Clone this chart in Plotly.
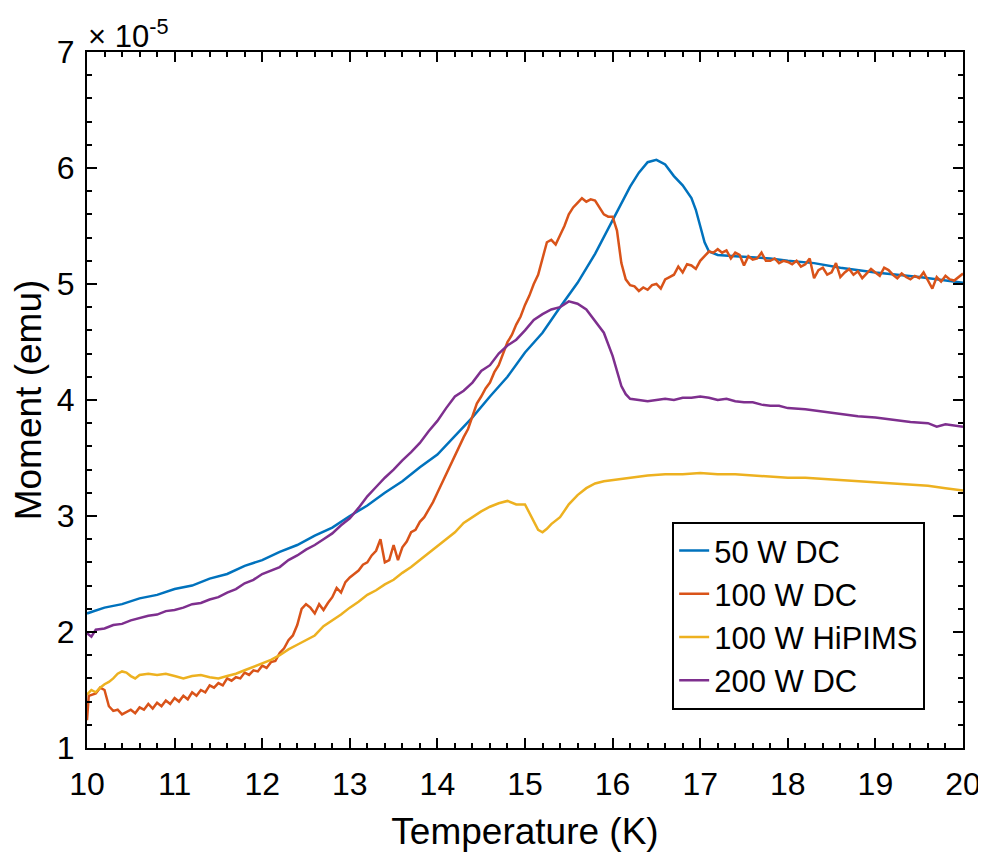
import plotly.graph_objects as go

# Moment values in units of 1e-5 emu (the axis multiplier shown on the chart)
t_50dc = [10.0, 10.2, 10.4, 10.6, 10.8, 11.0, 11.2, 11.4, 11.6, 11.8, 12.0, 12.2, 12.4, 12.6, 12.8,
          13.0, 13.2, 13.4, 13.6, 13.8, 14.0, 14.2, 14.4, 14.6, 14.8, 15.0, 15.2, 15.4, 15.6, 15.8,
          16.0, 16.1, 16.2, 16.3, 16.4, 16.5, 16.6, 16.7, 16.8, 16.9, 16.95, 17.0, 17.05, 17.1, 17.2,
          17.4, 17.6, 17.8, 18.0, 18.3, 18.6, 19.0, 19.5, 20.0]
m_50dc = [2.16, 2.21, 2.24, 2.29, 2.32, 2.37, 2.40, 2.46, 2.50, 2.57, 2.62, 2.69, 2.75, 2.83, 2.90,
          3.0, 3.09, 3.2, 3.30, 3.42, 3.53, 3.69, 3.85, 4.03, 4.20, 4.41, 4.58, 4.8, 5.01, 5.26,
          5.55, 5.7, 5.84, 5.96, 6.05, 6.07, 6.03, 5.93, 5.85, 5.74, 5.64, 5.5, 5.36, 5.28, 5.25,
          5.24, 5.23, 5.22, 5.2, 5.18, 5.14, 5.1, 5.06, 5.01]

t_100dc = [10.0, 10.02, 10.1, 10.15, 10.2, 10.25, 10.3, 10.35, 10.4, 10.45, 10.5, 10.55, 10.6, 10.65,
           10.7, 10.75, 10.8, 10.85, 10.9, 10.95, 11.0, 11.05, 11.1, 11.15, 11.2, 11.25, 11.3, 11.35,
           11.4, 11.45, 11.5, 11.55, 11.6, 11.65, 11.7, 11.75, 11.8, 11.85, 11.9, 11.95, 12.0, 12.05,
           12.1, 12.15, 12.2, 12.25, 12.3, 12.35, 12.4, 12.45, 12.5, 12.55, 12.6, 12.65, 12.7, 12.75,
           12.8, 12.85, 12.9, 12.95, 13.0, 13.05, 13.1, 13.15, 13.2, 13.25, 13.3, 13.35, 13.4, 13.45,
           13.5, 13.55, 13.6, 13.65, 13.7, 13.75, 13.8, 13.85, 13.9, 13.95, 14.0, 14.05, 14.1, 14.15,
           14.2, 14.25, 14.3, 14.35, 14.4, 14.45, 14.5, 14.55, 14.6, 14.65, 14.7, 14.75, 14.8, 14.85,
           14.9, 14.95, 15.0, 15.05, 15.1, 15.15, 15.2, 15.25, 15.3, 15.35, 15.4, 15.45, 15.5, 15.55,
           15.6, 15.65, 15.7, 15.75, 15.8, 15.85, 15.9, 15.95, 16.0, 16.05, 16.1, 16.15, 16.2, 16.25,
           16.3, 16.35, 16.4, 16.45, 16.5, 16.55, 16.6, 16.65, 16.7, 16.75, 16.8, 16.85, 16.9, 16.95,
           17.0, 17.05, 17.1, 17.15, 17.2, 17.25, 17.3, 17.35, 17.4, 17.45, 17.5, 17.55, 17.6, 17.65,
           17.7, 17.75, 17.8, 17.85, 17.9, 17.95, 18.0, 18.05, 18.1, 18.15, 18.2, 18.25, 18.3, 18.35,
           18.4, 18.45, 18.5, 18.55, 18.6, 18.65, 18.7, 18.75, 18.8, 18.85, 18.9, 18.95, 19.0, 19.05,
           19.1, 19.15, 19.2, 19.25, 19.3, 19.35, 19.4, 19.45, 19.5, 19.55, 19.6, 19.65, 19.7, 19.75,
           19.8, 19.85, 19.9, 19.95, 20.0]
m_100dc = [1.24, 1.45, 1.47, 1.52, 1.5, 1.36, 1.32, 1.33, 1.29, 1.31, 1.33, 1.3, 1.35, 1.33,
           1.38, 1.34, 1.39, 1.36, 1.41, 1.38, 1.43, 1.4, 1.45, 1.42, 1.48, 1.45, 1.5, 1.48,
           1.54, 1.52, 1.56, 1.54, 1.6, 1.58, 1.61, 1.6, 1.65, 1.63, 1.67, 1.66, 1.71, 1.69,
           1.74, 1.75, 1.82, 1.86, 1.93, 1.97, 2.06, 2.2, 2.24, 2.21, 2.16, 2.24, 2.19, 2.25,
           2.3, 2.38, 2.34, 2.43, 2.47, 2.5, 2.53, 2.58, 2.6, 2.66, 2.7, 2.8, 2.6, 2.62,
           2.75, 2.62, 2.73, 2.78, 2.86, 2.88, 2.95, 2.99, 3.05, 3.12, 3.2, 3.28, 3.36, 3.45,
           3.52, 3.6, 3.68, 3.75, 3.86, 3.97, 4.03, 4.1, 4.15, 4.24, 4.3, 4.4, 4.5, 4.56,
           4.65, 4.72, 4.82, 4.9, 5.0, 5.08, 5.22, 5.36, 5.38, 5.34, 5.42, 5.5, 5.6, 5.66,
           5.7, 5.74, 5.71, 5.73, 5.72, 5.66, 5.6, 5.58, 5.58, 5.46, 5.18, 5.04, 4.99, 4.98,
           4.94, 4.97, 4.95, 4.99, 5.0, 4.96, 5.04, 5.06, 5.08, 5.15, 5.1, 5.17, 5.16, 5.13,
           5.2, 5.24, 5.28, 5.27, 5.3, 5.27, 5.29, 5.22, 5.27, 5.25, 5.16, 5.24, 5.21, 5.22,
           5.27, 5.2, 5.2, 5.22, 5.18, 5.2, 5.19, 5.17, 5.2, 5.15, 5.17, 5.22, 5.05, 5.12,
           5.14, 5.08, 5.1, 5.18, 5.06, 5.1, 5.13, 5.08, 5.11, 5.05, 5.09, 5.13, 5.1, 5.07,
           5.14, 5.12, 5.08, 5.05, 5.09, 5.06, 5.04, 5.07, 5.05, 5.1, 5.03, 4.96, 5.06, 5.02,
           5.07, 5.04, 5.03, 5.06, 5.09]

t_hipims = [10.0, 10.05, 10.1, 10.15, 10.2, 10.25, 10.3, 10.35, 10.4, 10.45, 10.5, 10.55, 10.6, 10.7,
            10.8, 10.9, 11.0, 11.1, 11.2, 11.3, 11.4, 11.5, 11.6, 11.7, 11.8, 11.9, 12.0, 12.1, 12.2,
            12.3, 12.4, 12.5, 12.6, 12.7, 12.8, 12.9, 13.0, 13.1, 13.2, 13.3, 13.4, 13.5, 13.6, 13.7,
            13.8, 13.9, 14.0, 14.1, 14.2, 14.3, 14.4, 14.5, 14.6, 14.7, 14.8, 14.9, 15.0, 15.05, 15.1,
            15.15, 15.2, 15.25, 15.3, 15.4, 15.5, 15.6, 15.7, 15.8, 15.9, 16.0, 16.2, 16.4, 16.6, 16.8,
            17.0, 17.2, 17.4, 17.6, 17.8, 18.0, 18.2, 18.4, 18.6, 18.8, 19.0, 19.2, 19.4, 19.6, 19.8, 20.0]
m_hipims = [1.46, 1.5, 1.48, 1.52, 1.55, 1.57, 1.6, 1.64, 1.66, 1.65, 1.62, 1.6, 1.63, 1.64,
            1.63, 1.64, 1.62, 1.6, 1.62, 1.63, 1.61, 1.6, 1.62, 1.64, 1.67, 1.7, 1.73, 1.76, 1.8,
            1.85, 1.89, 1.93, 1.97, 2.05, 2.1, 2.15, 2.21, 2.26, 2.32, 2.36, 2.41, 2.45, 2.51, 2.56,
            2.62, 2.68, 2.74, 2.8, 2.86, 2.94, 2.99, 3.04, 3.08, 3.11, 3.13, 3.1, 3.1, 3.03, 2.95,
            2.88, 2.86, 2.89, 2.93, 2.99, 3.1, 3.18, 3.24, 3.28, 3.3, 3.31, 3.33, 3.35, 3.36, 3.36,
            3.37, 3.36, 3.36, 3.35, 3.34, 3.33, 3.33, 3.32, 3.31, 3.3, 3.29, 3.28, 3.27, 3.26, 3.24, 3.22]

t_200dc = [10.0, 10.05, 10.1, 10.2, 10.3, 10.4, 10.5, 10.6, 10.7, 10.8, 10.9, 11.0, 11.1, 11.2, 11.3,
           11.4, 11.5, 11.6, 11.7, 11.8, 11.9, 12.0, 12.1, 12.2, 12.3, 12.4, 12.5, 12.6, 12.7, 12.8,
           12.9, 13.0, 13.1, 13.2, 13.3, 13.4, 13.5, 13.6, 13.7, 13.8, 13.9, 14.0, 14.1, 14.2, 14.3,
           14.4, 14.5, 14.6, 14.7, 14.8, 14.9, 15.0, 15.1, 15.2, 15.3, 15.4, 15.5, 15.6, 15.7, 15.8,
           15.9, 16.0, 16.05, 16.1, 16.15, 16.2, 16.3, 16.4, 16.5, 16.6, 16.7, 16.8, 16.9, 17.0, 17.1,
           17.2, 17.3, 17.4, 17.5, 17.6, 17.7, 17.8, 17.9, 18.0, 18.2, 18.4, 18.6, 18.8, 19.0, 19.2,
           19.4, 19.6, 19.7, 19.8, 19.9, 20.0]
m_200dc = [1.99, 1.96, 2.02, 2.03, 2.06, 2.07, 2.1, 2.12, 2.14, 2.15, 2.18, 2.19, 2.21, 2.24, 2.25,
           2.28, 2.3, 2.34, 2.37, 2.42, 2.45, 2.5, 2.53, 2.56, 2.62, 2.66, 2.71, 2.75, 2.8, 2.85,
           2.92, 2.98, 3.07, 3.17, 3.25, 3.33, 3.4, 3.48, 3.55, 3.63, 3.73, 3.82, 3.93, 4.03, 4.08,
           4.15, 4.25, 4.3, 4.4, 4.47, 4.52, 4.6, 4.69, 4.74, 4.78, 4.8, 4.85, 4.83, 4.78, 4.68,
           4.58, 4.38, 4.24, 4.12, 4.05, 4.01, 4.0, 3.99, 4.0, 4.01, 4.0, 4.02, 4.02, 4.03, 4.02,
           4.0, 4.01, 3.99, 3.98, 3.98, 3.96, 3.95, 3.95, 3.93, 3.92, 3.9, 3.88, 3.86, 3.85, 3.83,
           3.81, 3.8, 3.77, 3.79, 3.78, 3.77]

series_names = ["50 W DC", "100 W DC", "100 W HiPIMS", "200 W DC"]
series_colors = ["#0072BD", "#D95319", "#EDB120", "#7E2F8E"]
x_ticks = [10, 11, 12, 13, 14, 15, 16, 17, 18, 19, 20]
y_ticks = [1, 2, 3, 4, 5, 6, 7]

FONT = "Liberation Sans, Arial, sans-serif"

fig = go.Figure()
for name, color, t, m in zip(series_names, series_colors,
                             [t_50dc, t_100dc, t_hipims, t_200dc],
                             [m_50dc, m_100dc, m_hipims, m_200dc]):
    fig.add_trace(go.Scatter(x=t, y=m, mode="lines", name=name,
                             line=dict(color=color, width=2.5)))

axis_common = dict(
    showline=True, linecolor="black", linewidth=2, mirror="allticks",
    ticks="inside", ticklen=10, tickwidth=2, tickcolor="black",
    showgrid=False, zeroline=False, automargin=False,
    tickfont=dict(family=FONT, size=32, color="black"),
)

fig.update_xaxes(range=[10, 20], tickvals=x_ticks, ticklabelstandoff=7, **axis_common,
                 minor=dict(ticks="inside", ticklen=5, tickwidth=2, tickcolor="black", dtick=0.2, showgrid=False),
                 title=dict(text="Temperature (K)", font=dict(family=FONT, size=37, color="black"), standoff=18))
fig.update_yaxes(range=[1, 7], tickvals=y_ticks, ticklabelstandoff=4, **axis_common,
                 minor=dict(ticks="inside", ticklen=5, tickwidth=2, tickcolor="black", dtick=0.2, showgrid=False),
                 title=dict(text="Moment (emu)", font=dict(family=FONT, size=37, color="black"), standoff=6))

fig.add_annotation(text="× 10<sup>-5</sup>", xref="paper", yref="paper", x=0, y=1,
                   xanchor="left", yanchor="bottom", showarrow=False, xshift=-1, yshift=-4,
                   font=dict(family=FONT, size=31, color="black"))

# The page body adds an 8 px margin at the top-left, so the figure starts at (8, 8).
fig.update_layout(
    width=978, height=844,
    margin=dict(l=79, r=23, t=44, b=104, autoexpand=False),
    paper_bgcolor="white", plot_bgcolor="white",
    showlegend=True,
    legend=dict(x=0.668, y=0.19, xanchor="left", yanchor="middle",
                bgcolor="white", bordercolor="black", borderwidth=2,
                font=dict(family=FONT, size=31, color="black"),
                tracegroupgap=0, itemwidth=30),
)

fig.write_html("out.html")
